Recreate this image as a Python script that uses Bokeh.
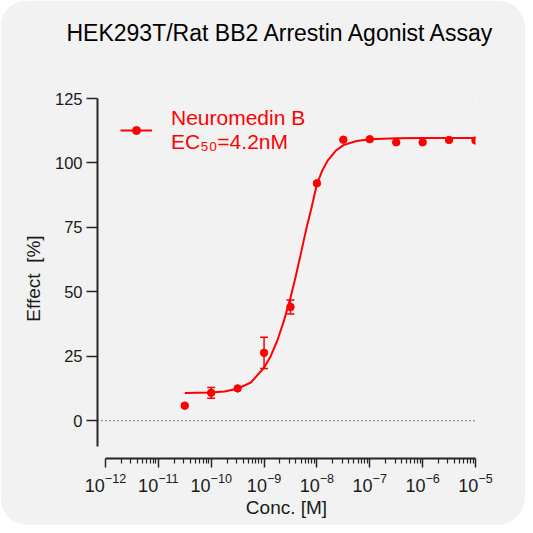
from bokeh.plotting import figure
from bokeh.models import (ColumnDataSource, Whisker, TeeHead, FixedTicker, Span,
                          Legend, LegendItem, Title)
from bokeh.embed import file_html
from bokeh.resources import INLINE

# ---- data ----
conc = [3.16e-11, 1e-10, 3.16e-10, 1e-9, 3.16e-9, 1e-8, 3.16e-8, 1e-7, 3.16e-7, 1e-6, 3.16e-6, 1e-5]
effect = [5.8, 10.8, 12.5, 26.3, 44.1, 92.1, 109.0, 109.2, 108.0, 108.0, 108.9, 108.7]
sem = [0, 2.1, 0, 6.1, 2.7, 0, 0, 0, 0, 0, 0, 0]

fit_log_conc = [-10.5, -10.0, -9.75, -9.5, -9.25, -9.0, -8.875, -8.75, -8.625, -8.5, -8.4, -8.3,
                -8.2, -8.1, -8.0, -7.9, -7.8, -7.65, -7.5, -7.25, -7.0, -6.5, -6.0, -5.0]
fit_effect = [10.7, 10.9, 11.3, 12.4, 14.8, 20.5, 25.0, 31.0, 38.7, 47.7, 56.0, 65.2,
              74.5, 82.8, 91.8, 97.0, 100.8, 104.6, 106.9, 108.5, 109.2, 109.6, 109.7, 109.7]

y_ticks = [0, 25, 50, 75, 100, 125]
x_decades = list(range(-12, -4))

title_text = "HEK293T/Rat BB2 Arrestin Agonist Assay"
legend_text = "Neuromedin B\nEC\u2085\u2080=4.2nM"
x_label = "Conc. [M]"
y_label = "Effect\u00a0 [%]"

FONT = "Liberation Sans"
RED = "#ff0000"
BG = "#f2f2f2"
INK = "#1a1a1a"

fit_conc = [10 ** v for v in fit_log_conc]

p = figure(width=525, height=525, x_axis_type="log",
           x_range=(10 ** -12.151, 1e-5), y_range=(-14.7, 125),
           output_backend="svg", toolbar_location=None,
           min_border_left=97, min_border_right=50,
           min_border_top=98, min_border_bottom=67)

p.background_fill_color = BG
p.border_fill_color = BG
p.outline_line_color = None
p.grid.visible = False
p.styles = {"border-radius": "28px", "overflow": "hidden"}

# spacer panel between the frame and the title, then the title itself
p.add_layout(Title(text=" ", text_font_size="1px", standoff=50), "above")
p.add_layout(Title(text=title_text, align="left", vertical_align="bottom", offset=-31,
                   standoff=0, text_font=FONT, text_font_size="23px",
                   text_font_style="normal", text_color="#000000"), "above")

# zero line
p.add_layout(Span(location=0, dimension="width", line_color="#333333",
                  line_width=1.3, line_dash="1 3"))

# fit curve and points
line_r = p.line(fit_conc, fit_effect, line_color=RED, line_width=2)
pts_r = p.scatter(conc, effect, size=7.5, fill_color=RED, line_color=RED)

# error bars
eb = [(c, e, s) for c, e, s in zip(conc, effect, sem) if s > 0]
err_src = ColumnDataSource(data=dict(
    x=[c for c, _, _ in eb],
    upper=[e + s for _, e, s in eb],
    lower=[e - s for _, e, s in eb],
))
p.add_layout(Whisker(source=err_src, base="x", upper="upper", lower="lower",
                     line_color=RED, line_width=1.5,
                     upper_head=TeeHead(size=8, line_color=RED, line_width=1.5),
                     lower_head=TeeHead(size=8, line_color=RED, line_width=1.5)))

# legend
legend = Legend(items=[LegendItem(label=legend_text, renderers=[line_r, pts_r])],
                location=(23, 304), padding=0, margin=0, glyph_width=32,
                label_standoff=19, label_text_font=FONT, label_text_font_size="21px",
                label_text_color=RED, label_text_line_height=1.2,
                background_fill_alpha=0, border_line_alpha=0)
p.add_layout(legend)

# x axis
xa = p.xaxis[0]
xa.ticker = FixedTicker(ticks=[10.0 ** d for d in x_decades],
                        minor_ticks=[k * 10.0 ** d for d in x_decades[:-1] for k in range(2, 10)])
xa.bounds = (10.0 ** x_decades[0], 10.0 ** x_decades[-1])
xa.axis_label = x_label
xa.axis_line_width = 2
xa.axis_line_color = "#262626"
xa.major_tick_line_color = "#262626"
xa.minor_tick_line_color = "#262626"
xa.major_tick_line_width = 1.5
xa.minor_tick_line_width = 1.2
xa.major_tick_in = 0
xa.major_tick_out = 9
xa.minor_tick_in = 0
xa.minor_tick_out = 5
xa.major_label_standoff = 5
xa.major_label_text_font = FONT
xa.major_label_text_font_size = "18px"
xa.major_label_text_color = INK
xa.axis_label_text_font = FONT
xa.axis_label_text_font_size = "19px"
xa.axis_label_text_font_style = "normal"
xa.axis_label_text_color = INK
xa.axis_label_standoff = 2

# y axis
ya = p.yaxis[0]
ya.ticker = FixedTicker(ticks=y_ticks, minor_ticks=[])
ya.bounds = (-10, 125)
ya.axis_label = y_label
ya.axis_line_width = 2
ya.axis_line_color = "#262626"
ya.major_tick_line_color = "#262626"
ya.major_tick_line_width = 1.5
ya.major_tick_in = 0
ya.major_tick_out = 11
ya.minor_tick_line_color = None
ya.major_label_standoff = 4
ya.major_label_text_font = FONT
ya.major_label_text_font_size = "16.5px"
ya.major_label_text_color = INK
ya.axis_label_text_font = FONT
ya.axis_label_text_font_size = "19px"
ya.axis_label_text_font_style = "normal"
ya.axis_label_text_color = INK
ya.axis_label_standoff = 8

open("out.html", "w").write(file_html(p, INLINE))
